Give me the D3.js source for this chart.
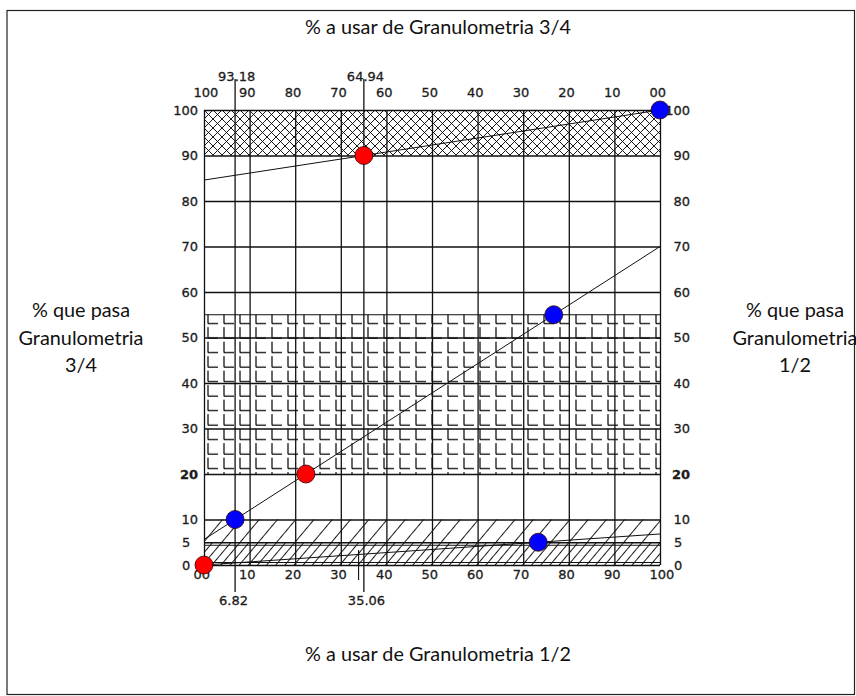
<!DOCTYPE html>
<html>
<head>
<meta charset="utf-8">
<script src="https://cdn.jsdelivr.net/npm/d3@7"></script>
<style>
  html, body { margin: 0; padding: 0; background: #fff; }
  svg { display: block; }
</style>
</head>
<body>
<svg id="chart" width="856" height="696"></svg>
<script>
// ---- data ----------------------------------------------------------
// x: % of the 1/2" aggregate used (bottom); top axis is its complement (3/4")
const gridX = [0, 10, 20, 30, 40, 50, 60, 70, 80, 90, 100];
const bottomTickLabels = ["00", "10", "20", "30", "40", "50", "60", "70", "80", "90", "100"];
const topTickLabels = ["100", "90", "80", "70", "60", "50", "40", "30", "20", "10", "00"];
// y: % passing each sieve
const gridY = [0, 5, 10, 20, 30, 40, 50, 60, 70, 80, 90, 100];
const sideTickLabels = ["0", "5", "10", "20", "30", "40", "50", "60", "70", "80", "90", "100"];

// specification bands (% passing limits)
const bandLow = [90, 20, 0, 0];
const bandHigh = [100, 55, 10, 5];
const bandFill = ["cross", "brick", "diag", "diagB"];

// blending lines: [x0, y0] -> [x1, y1]
const lineStart = [[0, 84.6], [0, 5.61], [0, 0]];
const lineEnd = [[100, 100], [100, 70.0], [100, 6.82]];

// sieve points of the 3/4" aggregate (blue) and 1/2" aggregate (red)
const blueX = [100, 76.7, 6.82, 73.3];
const blueY = [100, 55, 10, 5];
const redX = [35.06, 22.35, 0];
const redY = [90, 20, 0];

// resulting proportions
const cutHalf = [6.82, 35.06];
const cutThreeQuarter = ["93.18", "64.94"];
const cutHalfLabels = ["6.82", "35.06"];
const stubX = [33.9];

const titleTop = "% a usar de Granulometria 3/4";
const titleBottom = "% a usar de Granulometria 1/2";
const leftTitle = ["% que pasa", "Granulometria", "3/4"];
const rightTitle = ["% que pasa", "Granulometria", "1/2"];

// ---- layout ----------------------------------------------------------
const svg = d3.select("#chart");
const x = d3.scaleLinear().domain([0, 100]).range([204, 660]);
const y = d3.scaleLinear().domain([0, 100]).range([565, 110]);
const xTop = d3.scaleLinear().domain([100, 0]).range([204, 660]);
const tickFont = "'DejaVu Sans', Verdana, sans-serif";
const titleFont = "Lato, 'Open Sans', sans-serif";
const ink = "#111";

svg.append("rect").attr("width", 856).attr("height", 696).attr("fill", "#fff");

// outer frame
svg.append("rect").attr("x", 7).attr("y", 10.5).attr("width", 847.5).attr("height", 684)
  .attr("fill", "none").attr("stroke", "#222").attr("stroke-width", 1.2);

// ---- hatch patterns ----------------------------------------------------------
const defs = svg.append("defs");
const cross = defs.append("pattern").attr("id", "cross")
  .attr("patternUnits", "userSpaceOnUse").attr("width", 9).attr("height", 9)
  .attr("x", x(0)).attr("y", y(100));
cross.append("path").attr("d", "M0,0L9,9M9,0L0,9M-1,8L1,10M8,-1L10,1")
  .attr("stroke", "#000").attr("stroke-width", 0.9).attr("fill", "none");

const brick = defs.append("pattern").attr("id", "brick")
  .attr("patternUnits", "userSpaceOnUse").attr("width", 16).attr("height", 14.5)
  .attr("x", x(0) + 1).attr("y", y(55) - 5);
brick.append("path").attr("d", "M3,3V14M3,14H13")
  .attr("stroke", "#000").attr("stroke-width", 1.2).attr("fill", "none");

["diag", "diagB"].forEach((id, i) => {
  const p = defs.append("pattern").attr("id", id)
    .attr("patternUnits", "userSpaceOnUse").attr("width", 14).attr("height", 10)
    .attr("x", i * 7).attr("patternTransform", "rotate(40)");
  p.append("path").attr("d", "M0.5,-1V11")
    .attr("stroke", "#000").attr("stroke-width", 0.9).attr("fill", "none");
});

// ---- bands ----------------------------------------------------------
const bands = bandLow.map((lo, i) => ({ lo, hi: bandHigh[i], fill: bandFill[i] }));
svg.append("g").selectAll("rect").data(bands).join("rect")
  .attr("x", x(0)).attr("width", x(100) - x(0))
  .attr("y", d => y(d.hi)).attr("height", d => y(d.lo) - y(d.hi))
  .attr("fill", d => `url(#${d.fill})`);
// inner outline of the 0-5 band
svg.append("g").selectAll("path").data(bands.filter(d => d.fill === "diagB")).join("path")
  .attr("d", d => `M${x(0)},${y(d.hi) + 3}H${x(100)}M${x(0)},${y(d.lo) - 2.5}H${x(100)}`)
  .attr("stroke", ink).attr("stroke-width", 1).attr("fill", "none");

// ---- grid (axes with full-length ticks) ----------------------------------
const vGrid = svg.append("g").attr("transform", `translate(0,${y(0)})`)
  .call(d3.axisBottom(x).tickValues(gridX).tickSize(-(y(0) - y(100))).tickFormat(""));
const hGrid = svg.append("g").attr("transform", `translate(${x(0)},0)`)
  .call(d3.axisLeft(y).tickValues(gridY).tickSize(-(x(100) - x(0))).tickFormat(""));
[vGrid, hGrid].forEach(g => {
  g.select(".domain").remove();
  g.selectAll("line").attr("stroke", ink).attr("stroke-width", 1.3);
});
// brick band top edge
svg.append("line").attr("x1", x(0)).attr("x2", x(100))
  .attr("y1", y(55)).attr("y2", y(55)).attr("stroke", ink).attr("stroke-width", 1.2);

// ---- tick labels ----------------------------------------------------------
function styleText(sel) {
  sel.attr("font-family", tickFont).attr("font-size", 13).attr("fill", "#1c1c1c")
    .attr("stroke", "#1c1c1c").attr("stroke-width", 0.3);
}
const bottomAxis = svg.append("g").attr("transform", `translate(0,${y(0)})`)
  .call(d3.axisBottom(x).tickValues(gridX).tickSize(0).tickPadding(5)
    .tickFormat((d, i) => bottomTickLabels[i]));
const topAxis = svg.append("g").attr("transform", `translate(0,${y(100)})`)
  .call(d3.axisTop(xTop).tickValues(gridX.slice().reverse()).tickSize(0).tickPadding(13)
    .tickFormat((d, i) => topTickLabels[i]));
[bottomAxis, topAxis].forEach(g => {
  g.select(".domain").remove();
  g.attr("font-family", null).attr("font-size", null);
  g.selectAll("text").call(styleText).attr("text-anchor", "start").attr("dx", -11);
});

const leftAxis = svg.append("g").attr("transform", `translate(${x(0)},0)`)
  .call(d3.axisLeft(y).tickValues(gridY).tickSize(0).tickPadding(6)
    .tickFormat((d, i) => sideTickLabels[i]));
const rightAxis = svg.append("g").attr("transform", `translate(${x(100)},0)`)
  .call(d3.axisRight(y).tickValues(gridY).tickSize(0).tickPadding(30)
    .tickFormat((d, i) => sideTickLabels[i]));
[leftAxis, rightAxis].forEach((g, side) => {
  g.select(".domain").remove();
  g.attr("font-family", null).attr("font-size", null);
  g.selectAll("text").call(styleText)
    .attr("text-anchor", "end")
    .attr("x", side === 0 ? -6 : 30)
    .attr("font-weight", d => d === 20 ? "bold" : null)
    .each(function () {
      // single digits sit where a two-digit label would start
      const w = this.getComputedTextLength();
      if (w < 10) d3.select(this).attr("text-anchor", "start")
        .attr("x", (side === 0 ? -6 : 30) - 16);
    });
});

// ---- blending lines ----------------------------------------------------------
svg.append("g").selectAll("line").data(lineStart.map((s, i) => [s, lineEnd[i]])).join("line")
  .attr("x1", d => x(d[0][0])).attr("y1", d => y(d[0][1]))
  .attr("x2", d => x(d[1][0])).attr("y2", d => y(d[1][1]))
  .attr("stroke", ink).attr("stroke-width", 1);

// ---- proportion cut lines ----------------------------------------------------
const cuts = cutHalf.map((v, i) => ({ v, top: cutThreeQuarter[i], bottom: cutHalfLabels[i] }));
const cutG = svg.append("g");
cutG.selectAll("line").data(cuts).join("line")
  .attr("x1", d => x(d.v)).attr("x2", d => x(d.v))
  .attr("y1", y(100) - 31).attr("y2", y(0) + 27)
  .attr("stroke", ink).attr("stroke-width", 1.3);
cutG.selectAll("text.top").data(cuts).join("text").attr("class", "top")
  .attr("x", d => x(d.v) - 17).attr("y", y(100) - 29).text(d => d.top).call(styleText);
cutG.selectAll("text.bot").data(cuts).join("text").attr("class", "bot")
  .attr("x", d => x(d.v) - 16).attr("y", y(0) + 40).text(d => d.bottom).call(styleText);
svg.append("g").selectAll("line").data(stubX).join("line")
  .attr("x1", d => x(d)).attr("x2", d => x(d))
  .attr("y1", y(3.3)).attr("y2", y(0) + 15)
  .attr("stroke", ink).attr("stroke-width", 1.1);

// ---- points ----------------------------------------------------------
const pts = [
  ...redX.map((v, i) => ({ x: v, y: redY[i], c: "#ff0000" })),
  ...blueX.map((v, i) => ({ x: v, y: blueY[i], c: "#0000ff" }))
];
svg.append("g").selectAll("circle").data(pts).join("circle")
  .attr("cx", d => x(d.x)).attr("cy", d => y(d.y)).attr("r", 9)
  .attr("fill", d => d.c).attr("stroke", "#300").attr("stroke-width", 0.8);

// ---- titles ----------------------------------------------------------
const probe = svg.append("text").attr("font-family", titleFont).attr("font-size", 100)
  .text("Granulometria");
const titleSize = 100 * 125 / probe.node().getComputedTextLength();
probe.remove();
function titleText(sel) {
  sel.attr("font-family", titleFont).attr("font-size", titleSize)
    .attr("fill", "#111").attr("text-anchor", "middle");
}
svg.append("text").attr("x", 438).attr("y", 34).text(titleTop).call(titleText);
svg.append("text").attr("x", 438).attr("y", 661).text(titleBottom).call(titleText);
[[leftTitle, 81], [rightTitle, 795]].forEach(([lines, cx]) => {
  svg.append("g").selectAll("text").data(lines).join("text")
    .attr("x", cx).attr("y", (d, i) => 317 + i * 27.5).text(d => d).call(titleText);
});
</script>
</body>
</html>
